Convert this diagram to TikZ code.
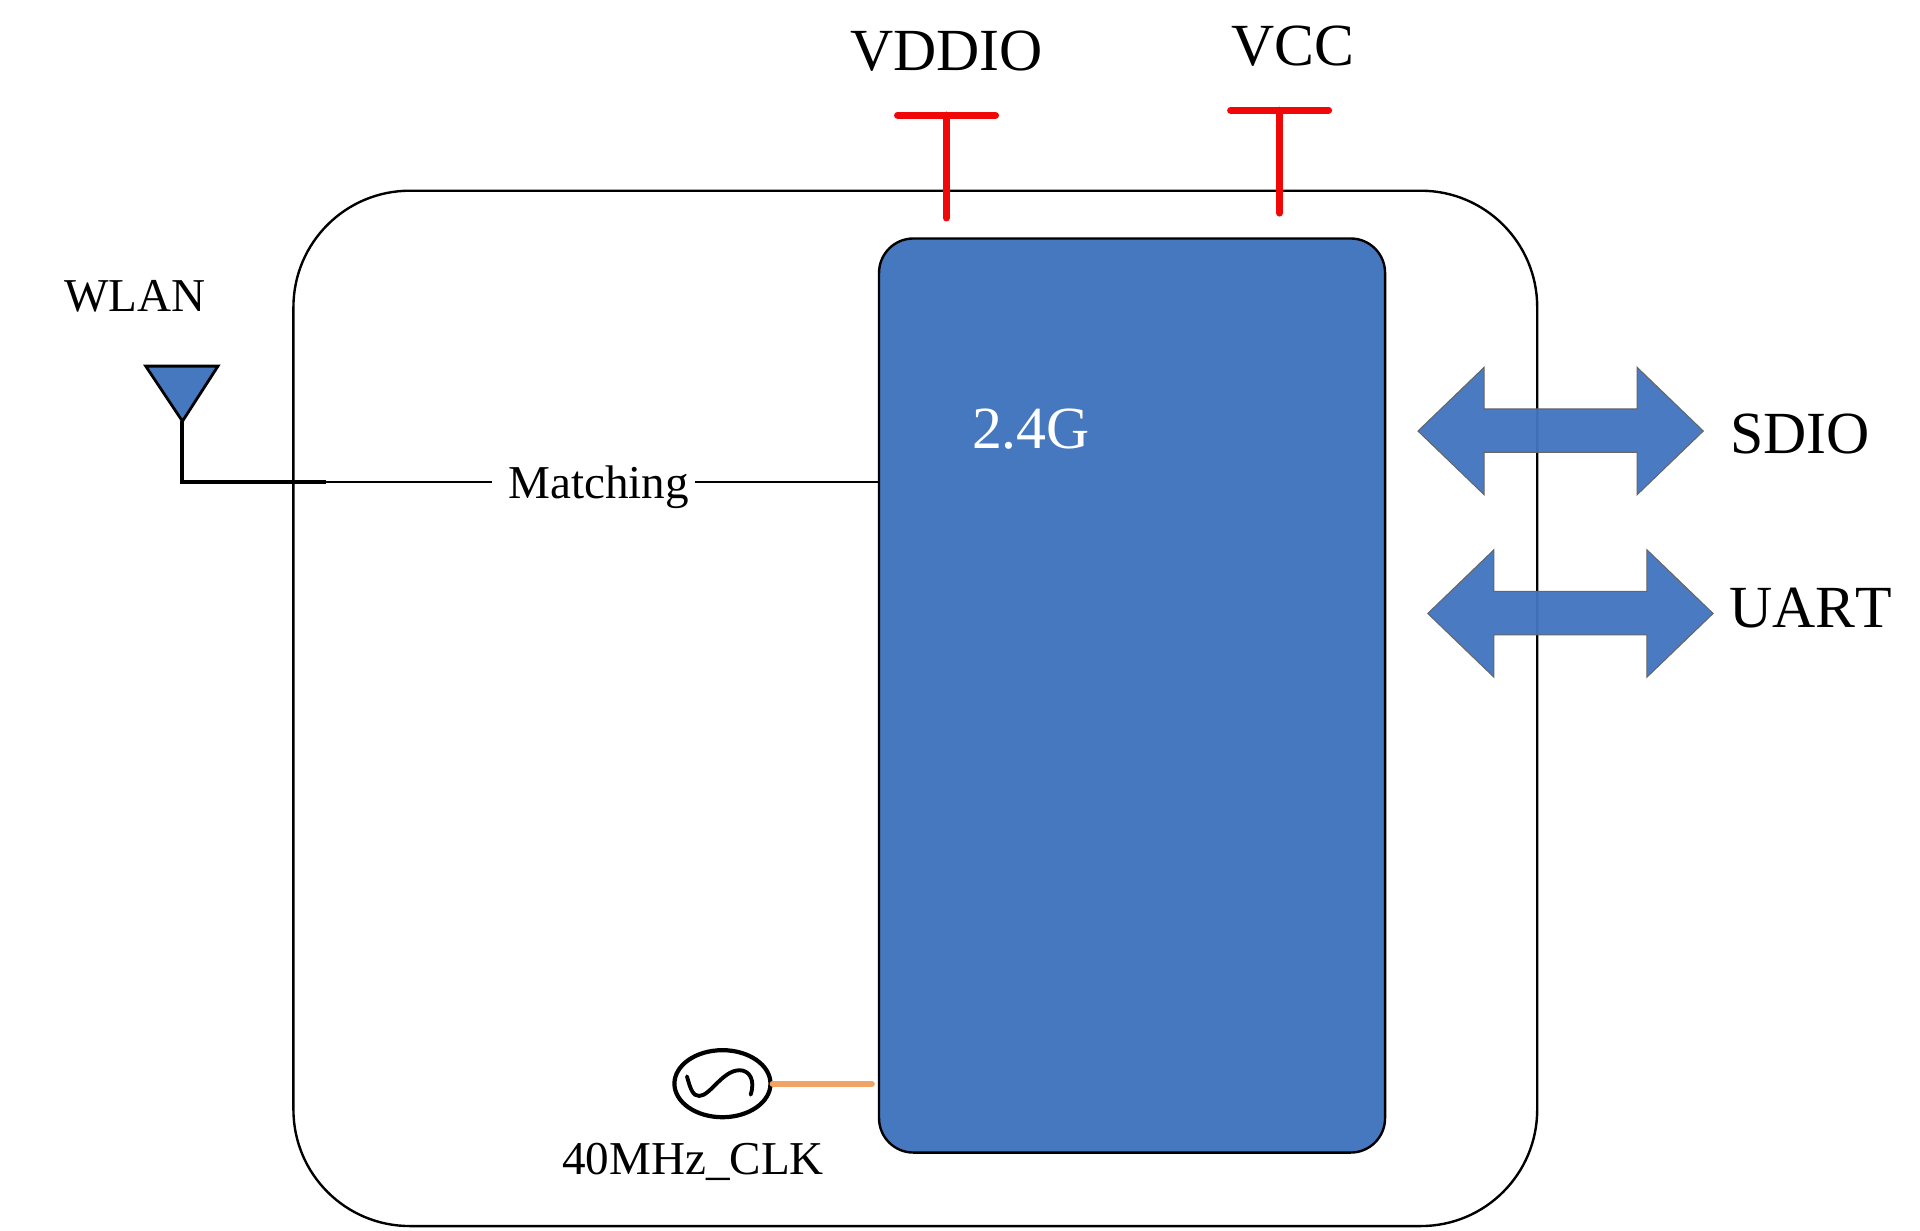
\documentclass[tikz,border=0pt]{standalone}
\usepackage{fontspec}
\setmainfont{Liberation Serif}
\usetikzlibrary{shapes.geometric}
\definecolor{chipblue}{HTML}{4678C0}
\definecolor{busblue}{HTML}{4275BF}
\definecolor{clkorange}{HTML}{F2A262}
\definecolor{railred}{HTML}{F00808}
\tikzset{
    biglabel/.style={inner sep=1.5pt,text depth=0pt,font=\fontsize{17}{20}\selectfont},
    smalllabel/.style={inner sep=1.5pt,text depth=0pt,font=\fontsize{13.4}{16}\selectfont},
    wire/.style={black,line width=0.68pt},
    rail/.style={railred,line width=2pt,line cap=round},
    bus/.style={draw=black!60,line width=0.3pt,fill=busblue,fill opacity=0.96},
}
\begin{document}
\begin{tikzpicture}[x=0.012245cm,y=-0.012245cm]
    \useasboundingbox (0,0) rectangle (1568,1005.3);
    % module outline and chip
    \node[draw,wire,rounded corners=1.163cm,minimum width=12.43cm,minimum height=10.347cm] (module) at (747.5,578.5) {};
    \node[draw,wire,fill=chipblue,rounded corners=0.343cm,minimum width=5.057cm,minimum height=9.135cm] (chip) at (924.5,568) {};
    \node[biglabel,white] (band) at (842,350) {2.4G};
    % antenna
    \coordinate (anttip) at (149,344);
    \coordinate (antend) at (266,393.5);
    \draw[wire,line width=0.8pt,fill=chipblue,line join=miter] (119,299) -- (178,299) -- (anttip) -- cycle;
    \draw[black,line width=1.15pt] (anttip) |- (antend);
    \node[smalllabel] (wlan) at (110,242) {WLAN};
    \node[smalllabel] (matching) at (489,393.5) {Matching};
    \draw[wire,shorten >=0.1cm] (antend) -- (matching.west);
    \draw[wire] (matching.east) -- (matching.east -| chip.west);
    % supply rails
    \foreach \px/\py/\name in {773/94/vddio,1045/90/vcc}{
        \coordinate (\name bar) at (\px,\py);
        \coordinate (\name end) at (\px,\py+84);
        \draw[rail] (\px-40,\py) -- (\px+40,\py);
        \draw[rail] (\name bar) -- (\name end);
    }
    \node[biglabel] (vddio) at (773,41) {VDDIO};
    \node[biglabel] (vcc) at (1056,37) {VCC};
    % host interfaces
    \foreach \ax/\ay in {1158/352,1166/501}{
        \draw[bus] (\ax,\ay) -- (\ax+54,\ay-52) -- (\ax+54,\ay-18) -- (\ax+179,\ay-18)
        -- (\ax+179,\ay-52) -- (\ax+233,\ay) -- (\ax+179,\ay+52) -- (\ax+179,\ay+17.5)
        -- (\ax+54,\ay+17.5) -- (\ax+54,\ay+52) -- cycle;
    }
    \node[biglabel] (sdio) at (1470,354) {SDIO};
    \node[biglabel] (uart) at (1478.5,496) {\addfontfeature{Kerning=Off}UART};
    % clock
    \node[draw,ellipse,black,line width=1.2pt,minimum width=0.96cm,minimum height=0.67cm,inner sep=0pt] (osc) at (590,885) {};
    \draw[black,line width=1.1pt,line cap=round] (561,879) .. controls (564,890) and (566,895) .. (571,895)
    .. controls (580,895) and (590,874) .. (604,874) .. controls (612,874) and (617,882) .. (613,894);
    \coordinate (clkend) at (712,885);
    \draw[clkorange,line width=1.7pt,line cap=round] (osc.east) -- (clkend);
    \node[smalllabel] (clk) at (566,946) {40MHz\_CLK};
\end{tikzpicture}
\end{document}
